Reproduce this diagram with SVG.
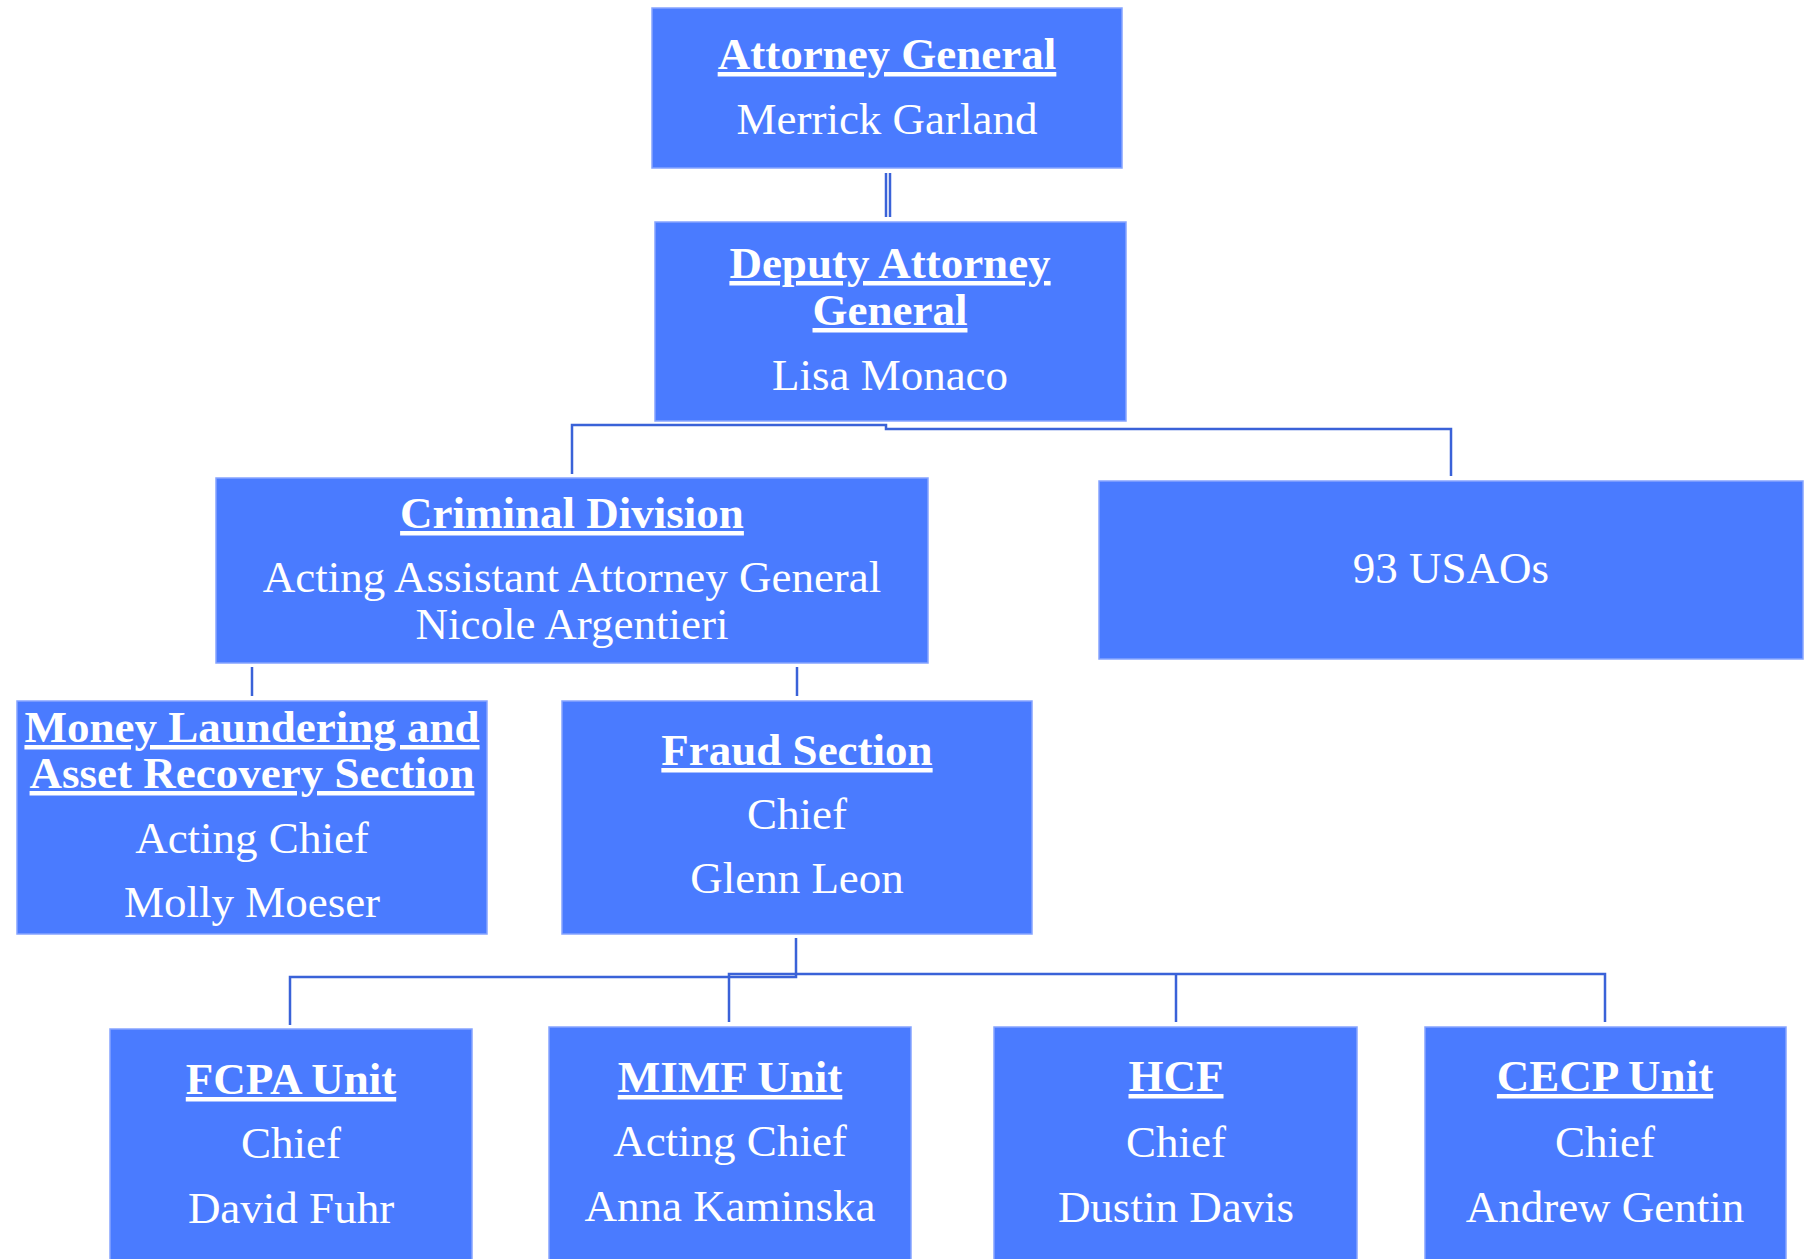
<svg xmlns="http://www.w3.org/2000/svg" width="1813" height="1259" viewBox="0 0 1813 1259">
<style>
.box{fill:#4a7bff;stroke:#86a4ff;stroke-width:1.5}
.t{font-family:"Liberation Serif","Times New Roman",serif;font-size:45px;fill:#fff;text-anchor:middle}
.b{font-weight:bold;text-decoration:underline;text-decoration-thickness:4px}
.c{fill:none;stroke:#3a62d8;stroke-width:2.5}
</style>
<rect width="1813" height="1259" fill="#fff"/>
<g id="connectors">
<line class="c" x1="886" y1="173" x2="886" y2="217" stroke-width="2"/>
<line class="c" x1="890" y1="173" x2="890" y2="217" stroke-width="2"/>
<polyline class="c" points="572,474 572,425 886,425 886,429 1451,429 1451,476"/>
<line class="c" x1="252" y1="667" x2="252" y2="696"/>
<line class="c" x1="797" y1="667" x2="797" y2="696"/>
<polyline class="c" points="796,938 796,977 290,977 290,1025"/>
<polyline class="c" points="729,1022 729,974 1605,974 1605,1022"/>
<line class="c" x1="1176" y1="974" x2="1176" y2="1022"/>
</g>
<g id="ag">
<rect class="box" x="652" y="8" width="470" height="160"/>
<text class="t b" x="887" y="69">Attorney General</text>
<text class="t" x="887" y="134">Merrick Garland</text>
</g>
<g id="dag">
<rect class="box" x="655" y="222" width="471" height="199"/>
<text class="t b" x="890" y="278">Deputy Attorney</text>
<text class="t b" x="890" y="325">General</text>
<text class="t" x="890" y="390">Lisa Monaco</text>
</g>
<g id="criminal">
<rect class="box" x="216" y="478" width="712" height="185"/>
<text class="t b" x="572" y="528">Criminal Division</text>
<text class="t" x="572" y="592">Acting Assistant Attorney General</text>
<text class="t" x="572" y="639">Nicole Argentieri</text>
</g>
<g id="usaos">
<rect class="box" x="1099" y="481" width="704" height="178"/>
<text class="t" x="1451" y="583">93 USAOs</text>
</g>
<g id="mlars">
<rect class="box" x="17" y="701" width="470" height="233"/>
<text class="t b" x="252" y="742">Money Laundering and</text>
<text class="t b" x="252" y="788">Asset Recovery Section</text>
<text class="t" x="252" y="853">Acting Chief</text>
<text class="t" x="252" y="917">Molly Moeser</text>
</g>
<g id="fraud">
<rect class="box" x="562" y="701" width="470" height="233"/>
<text class="t b" x="797" y="765">Fraud Section</text>
<text class="t" x="797" y="829">Chief</text>
<text class="t" x="797" y="893">Glenn Leon</text>
</g>
<g id="fcpa">
<rect class="box" x="110" y="1029" width="362" height="240"/>
<text class="t b" x="291" y="1094">FCPA Unit</text>
<text class="t" x="291" y="1158">Chief</text>
<text class="t" x="291" y="1223">David Fuhr</text>
</g>
<g id="mimf">
<rect class="box" x="549" y="1027" width="362" height="242"/>
<text class="t b" x="730" y="1092">MIMF Unit</text>
<text class="t" x="730" y="1156">Acting Chief</text>
<text class="t" x="730" y="1221">Anna Kaminska</text>
</g>
<g id="hcf">
<rect class="box" x="994" y="1027" width="363" height="242"/>
<text class="t b" x="1176" y="1091">HCF</text>
<text class="t" x="1176" y="1157">Chief</text>
<text class="t" x="1176" y="1222">Dustin Davis</text>
</g>
<g id="cecp">
<rect class="box" x="1425" y="1027" width="361" height="242"/>
<text class="t b" x="1605" y="1091">CECP Unit</text>
<text class="t" x="1605" y="1157">Chief</text>
<text class="t" x="1605" y="1222">Andrew Gentin</text>
</g>
</svg>
